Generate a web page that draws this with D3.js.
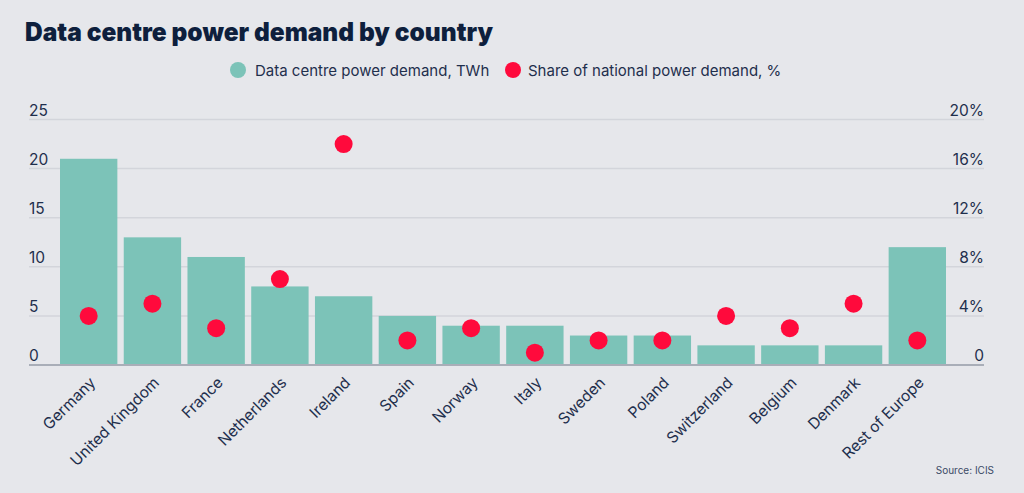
<!DOCTYPE html>
<html>
<head>
<meta charset="utf-8">
<script src="https://cdn.jsdelivr.net/npm/d3@7"></script>
<style>
  html, body { margin: 0; padding: 0; background: #e6e7eb; }
  svg { display: block; font-family: Inter, "Noto Sans", sans-serif; }
</style>
</head>
<body>
<div id="chart"></div>
<script>
// chart data
const countries = ['Germany', 'United Kingdom', 'France', 'Netherlands', 'Ireland', 'Spain', 'Norway',
	'Italy', 'Sweden', 'Poland', 'Switzerland', 'Belgium', 'Denmark', 'Rest of Europe'];
const demandTWh = [21, 13, 11, 8, 7, 5, 4, 4, 3, 3, 2, 2, 2, 12];
const sharePct = [4, 5, 3, 7, 18, 2, 3, 1, 2, 2, 4, 3, 5, 2];
const leftTicks = [0, 5, 10, 15, 20, 25];
const rightTicks = [0, 4, 8, 12, 16, 20];

const W = 1024, H = 493;
const navy = '#1f2f4d';

var svg = d3.select('#chart').append('svg')
	.attr('width', W)
	.attr('height', H);

svg.append('rect').attr('width', W).attr('height', H).attr('fill', '#e6e7eb');

var x = d3.scaleBand()
	.domain(countries)
	.range([60, 946])
	.paddingInner(0.1)
	.paddingOuter(0);

var y = d3.scaleLinear()
	.domain([0, 25])
	.range([365, 119.5]);

var y2 = d3.scaleLinear()
	.domain([0, 20])
	.range([365, 119.5]);

// gridlines + left labels
var grid = svg.append('g').attr('class', 'grid');
grid.selectAll('line')
	.data(leftTicks.slice(1))
	.join('line')
	.attr('x1', 29).attr('x2', 984)
	.attr('y1', d => y(d)).attr('y2', d => y(d))
	.attr('stroke', '#d3d5db')
	.attr('stroke-width', 1.5);

svg.append('g')
	.selectAll('text')
	.data(leftTicks)
	.join('text')
	.attr('x', 29)
	.attr('y', d => y(d) - 4)
	.attr('fill', navy)
	.attr('font-size', 15.5)
	.text(d => d);

svg.append('g')
	.selectAll('text')
	.data(rightTicks)
	.join('text')
	.attr('x', 984)
	.attr('y', d => y2(d) - 4)
	.attr('text-anchor', 'end')
	.attr('fill', navy)
	.attr('font-size', 15.5)
	.text(d => d === 0 ? '0' : d + '%');

// bars
svg.append('g')
	.selectAll('rect')
	.data(countries)
	.join('rect')
	.attr('x', d => x(d))
	.attr('width', x.bandwidth())
	.attr('y', (d, i) => y(demandTWh[i]))
	.attr('height', (d, i) => y(0) - y(demandTWh[i]))
	.attr('fill', '#7cc3b8');

// baseline
svg.append('line')
	.attr('x1', 29).attr('x2', 984)
	.attr('y1', y(0)).attr('y2', y(0))
	.attr('stroke', '#a9aeb8')
	.attr('stroke-width', 2);

// share dots
svg.append('g')
	.selectAll('circle')
	.data(countries)
	.join('circle')
	.attr('cx', d => x(d) + x.bandwidth() / 2)
	.attr('cy', (d, i) => y2(sharePct[i]))
	.attr('r', 9)
	.attr('fill', '#ff0a3c');

// x labels
svg.append('g')
	.selectAll('text')
	.data(countries)
	.join('text')
	.attr('transform', d => 'translate(' + (x(d) + x.bandwidth() / 2) + ',376) rotate(-45)')
	.attr('text-anchor', 'end')
	.attr('dy', '0.7em')
	.attr('fill', navy)
	.attr('font-size', 15.5)
	.text(d => d);

// title
svg.append('text')
	.attr('x', 25).attr('y', 41)
	.attr('fill', '#0e1f3d')
	.attr('font-size', 25.5)
	.attr('font-weight', 900)
	.attr('textLength', 468)
	.attr('lengthAdjust', 'spacingAndGlyphs')
	.text('Data centre power demand by country');

// legend
var legend = [
	{ label: 'Data centre power demand, TWh', color: '#7cc3b8', cx: 238, tx: 255 },
	{ label: 'Share of national power demand, %', color: '#ff0a3c', cx: 513, tx: 528 }
];
var lg = svg.append('g').selectAll('g').data(legend).join('g');
lg.append('circle')
	.attr('cx', d => d.cx).attr('cy', 70).attr('r', 8)
	.attr('fill', d => d.color);
lg.append('text')
	.attr('x', d => d.tx).attr('y', 75.5)
	.attr('fill', navy)
	.attr('font-size', 15)
	.text(d => d.label);

// source
svg.append('text')
	.attr('x', 994).attr('y', 474)
	.attr('text-anchor', 'end')
	.attr('fill', '#3b4a66')
	.attr('font-size', 10)
	.text('Source: ICIS');
</script>
</body>
</html>
